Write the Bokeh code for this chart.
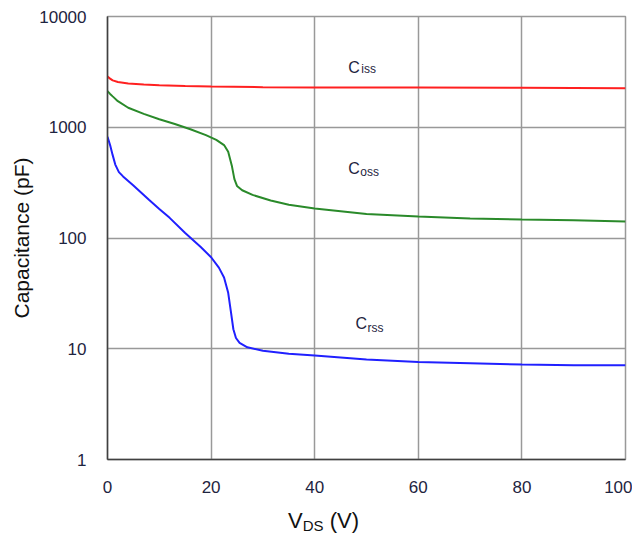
from bokeh.plotting import figure
from bokeh.models import FixedTicker, Range1d, Div
from bokeh.layouts import column
from bokeh.core.properties import value
from bokeh.embed import file_html
from bokeh.resources import INLINE

# ---- data ----
ciss_v = [0, 0.5, 1, 2, 4, 7, 10, 15, 20, 30, 40, 60, 80, 100]
ciss_c = [2870, 2750, 2650, 2560, 2480, 2430, 2400, 2360, 2330, 2300, 2290, 2280, 2270, 2250]

coss_v = [0, 0.5, 1, 2, 4, 7, 10, 13, 16, 19, 21, 22.5, 23.3, 24, 24.5, 25, 26, 28, 31.5,
          35, 40, 50, 60, 70, 80, 90, 100]
coss_c = [2120, 2000, 1900, 1720, 1500, 1320, 1180, 1070, 960, 850, 770, 690, 600, 450, 340,
          295, 270, 245, 218, 200, 185, 165, 156, 150, 147, 145, 141]

crss_v = [0, 0.5, 1, 1.5, 2.2, 3, 5, 8, 10, 12, 15, 18, 20, 21.5, 22.5, 23.3, 23.8, 24.3, 24.8,
          25.5, 27, 30, 35, 40, 50, 60, 70, 80, 90, 100]
crss_c = [820, 690, 560, 460, 393, 360, 298, 221, 183, 152, 111, 83, 67, 54, 44, 32, 22, 15,
          12.5, 11.3, 10.3, 9.6, 9.0, 8.7, 8.0, 7.6, 7.4, 7.2, 7.1, 7.1]

x_ticks = [0, 20, 40, 60, 80, 100]
y_ticks = [1, 10, 100, 1000, 10000]
y_tick_labels = ["1", "10", "100", "1000", "10000"]

FONT = "Liberation Sans"
TXT = "#1e2440"

p = figure(width=632, height=509, y_axis_type="log",
           x_range=Range1d(0, 100), y_range=Range1d(1, 10000),
           output_backend="svg", toolbar_location=None,
           min_border_left=107, min_border_right=7, min_border_top=16, min_border_bottom=50)

p.line(ciss_v, ciss_c, line_color="#ff2020", line_width=2)
p.line(coss_v, coss_c, line_color="#2a8a2a", line_width=2)
p.line(crss_v, crss_c, line_color="#2020ff", line_width=2)

# curve labels
names = [("C", "iss", 46.5, 3466, 49.0, 3325),
         ("C", "oss", 46.5, 424, 48.8, 398),
         ("C", "rss", 47.9, 16.9, 50.2, 15.5)]
for main, sub, x1, y1, x2, y2 in names:
    p.text(x=[x1], y=[y1], text=[main], text_font=value(FONT), text_font_size="16px",
           text_color=TXT, text_baseline="alphabetic", text_align="left")
    p.text(x=[x2], y=[y2], text=[sub], text_font=value(FONT), text_font_size="12px",
           text_color=TXT, text_baseline="alphabetic", text_align="left")

# axes
p.xaxis.ticker = FixedTicker(ticks=x_ticks, minor_ticks=[])
p.yaxis.ticker = FixedTicker(ticks=y_ticks, minor_ticks=[])
p.yaxis.major_label_overrides = {t: l for t, l in zip(y_ticks, y_tick_labels)}
for ax in (p.xaxis, p.yaxis):
    ax.major_tick_line_color = None
    ax.minor_tick_line_color = None
    ax.axis_line_color = "#404040"
    ax.axis_line_width = 1.5
    ax.major_label_text_font = FONT
    ax.major_label_text_font_size = "17px"
    ax.major_label_text_color = TXT
p.xaxis.major_label_standoff = 15
p.yaxis.major_label_standoff = 15

p.yaxis.axis_label = "Capacitance (pF)"
p.yaxis.axis_label_text_font = FONT
p.yaxis.axis_label_text_font_size = "21px"
p.yaxis.axis_label_text_font_style = "normal"
p.yaxis.axis_label_text_color = "#111111"
p.yaxis.axis_label_standoff = 3

p.xgrid.grid_line_color = "#999999"
p.ygrid.grid_line_color = "#999999"
p.xgrid.grid_line_width = 1.5
p.ygrid.grid_line_width = 1.5
p.outline_line_color = "#999999"
p.outline_line_width = 1.5

# x axis label with subscript (real HTML text)
xlabel = Div(
    text=('<div style="margin-left:288px;font-family:\'Liberation Sans\';font-size:22px;'
          'line-height:24px;color:#111111;white-space:nowrap">'
          'V<sub style="font-size:15px;vertical-align:-3px">DS</sub> (V)</div>'),
    width=632, height=26, margin=0)

layout = column(p, xlabel, spacing=0)

open("out.html", "w").write(file_html(layout, INLINE))
